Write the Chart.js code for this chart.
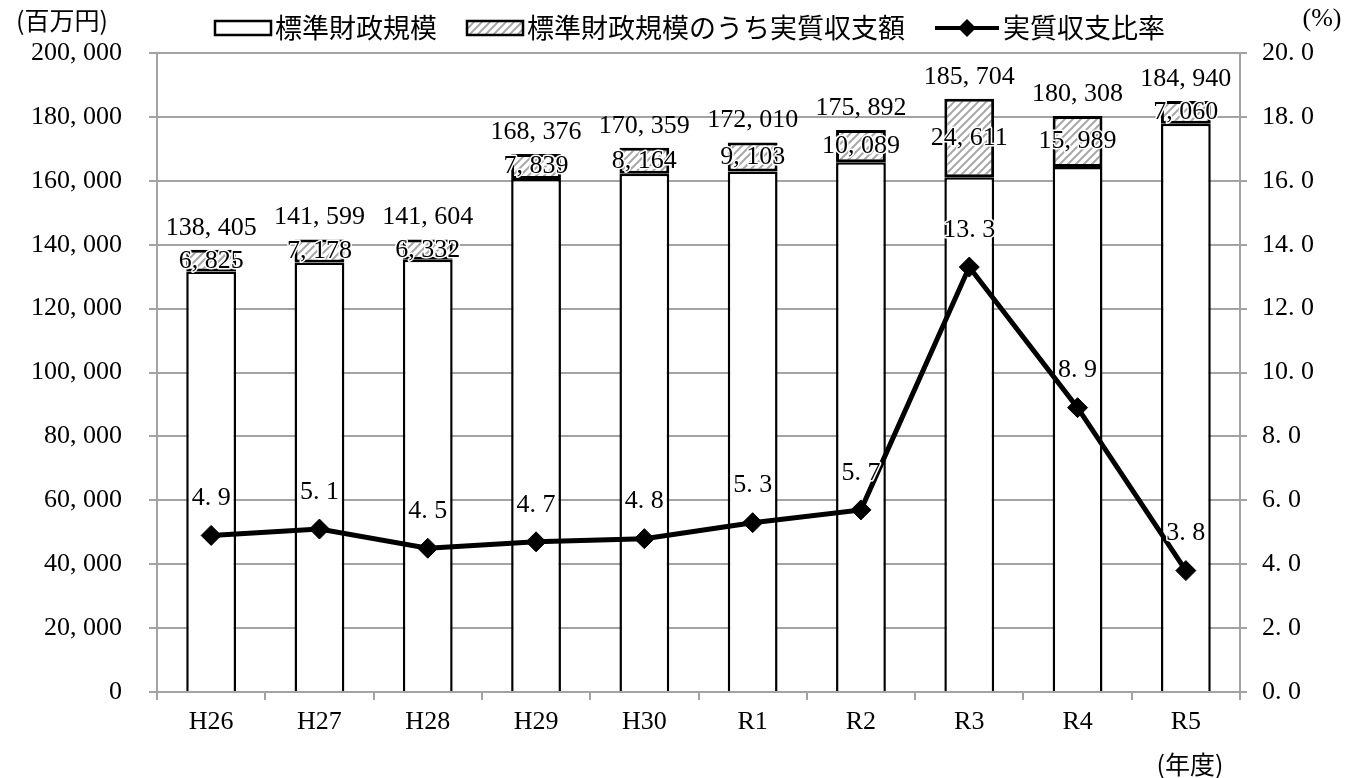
<!DOCTYPE html>
<html lang="ja">
<head>
<meta charset="utf-8">
<title>標準財政規模と実質収支比率</title>
<script src="https://cdn.jsdelivr.net/npm/chart.js@4/dist/chart.umd.min.js"></script>
<style>
  html, body { margin: 0; padding: 0; background: #fff; }
  canvas { display: block; }
</style>
</head>
<body>
<canvas id="fiscalChart" width="1371" height="778"></canvas>
<script>
// 年度
const years = ['H26', 'H27', 'H28', 'H29', 'H30', 'R1', 'R2', 'R3', 'R4', 'R5'];
// 標準財政規模（百万円）
const standardScale = [138405, 141599, 141604, 168376, 170359, 172010, 175892, 185704, 180308, 184940];
// 標準財政規模のうち実質収支額（百万円）
const realBalance = [6825, 7178, 6332, 7839, 8164, 9103, 10089, 24611, 15989, 7060];
// 実質収支比率（%）
const balanceRatio = [4.9, 5.1, 4.5, 4.7, 4.8, 5.3, 5.7, 13.3, 8.9, 3.8];

const legendLabels = ['標準財政規模', '標準財政規模のうち実質収支額', '実質収支比率'];
const unitLeft = '(百万円)';
const unitRight = '(%)';
const unitX = '(年度)';

const leftMax = 200000, leftStep = 20000;
const rightMax = 20, rightStep = 2;

const numFont = '"Liberation Serif", "DejaVu Serif", serif';
const jpFont = '"Noto Sans CJK JP", "Noto Sans", sans-serif';
const gridGray = '#a3a3a3';

const canvas = document.getElementById('fiscalChart');
const ctx = canvas.getContext('2d');

// gray diagonal hatching for the 実質収支額 segment
function makeHatch() {
    const c = document.createElement('canvas');
    c.width = 8; c.height = 8;
    const g = c.getContext('2d');
    g.fillStyle = '#fff';
    g.fillRect(0, 0, 8, 8);
    g.strokeStyle = '#a8a8a8';
    g.lineWidth = 2;
    g.beginPath();
    g.moveTo(0, 8); g.lineTo(8, 0);
    g.moveTo(-2, 2); g.lineTo(2, -2);
    g.moveTo(6, 10); g.lineTo(10, 6);
    g.stroke();
    return ctx.createPattern(c, 'repeat');
}
const hatch = makeHatch();

// "138,405" -> "138, 405" the way the half-width font spaces it
function fmtNum(n) {
    return n.toLocaleString('en-US').replace(/,/g, ', ');
}
function fmtDec(v) {
    return v.toFixed(1).replace('.', '. ');
}

function haloText(c, text, x, y, halo) {
    if (halo) {
        c.lineWidth = halo;
        c.strokeStyle = '#fff';
        c.lineJoin = 'round';
        c.strokeText(text, x, y);
    }
    c.fillStyle = '#000';
    c.fillText(text, x, y);
}

// value labels on bars and line points
const valueLabels = {
    id: 'valueLabels',
    afterDatasetsDraw(chart) {
        const c = chart.ctx;
        const sub = chart.getDatasetMeta(1);
        const line = chart.getDatasetMeta(2);
        c.save();
        c.font = '26px ' + numFont;
        c.textAlign = 'center';
        c.textBaseline = 'middle';
        sub.data.forEach((bar, i) => {
            haloText(c, fmtNum(standardScale[i]), bar.x, bar.y - 22, 0);
            haloText(c, fmtNum(realBalance[i]), bar.x, (bar.y + bar.base) / 2, 3);
        });
        line.data.forEach((pt, i) => {
            haloText(c, fmtDec(balanceRatio[i]), pt.x, pt.y - 37, 3);
        });
        c.restore();
    }
};

// legend row and unit captions
const legendRow = {
    id: 'legendRow',
    afterDraw(chart) {
        const c = chart.ctx;
        c.save();
        c.font = '27px ' + jpFont;
        c.textBaseline = 'middle';
        const iconW = [56, 56, 64];
        const gapIcon = 4, gapItem = 30;
        const widths = legendLabels.map(t => c.measureText(t).width);
        let total = 0;
        widths.forEach((w, i) => { total += iconW[i] + gapIcon + w; });
        total += gapItem * (legendLabels.length - 1);
        let x = 690 - total / 2;
        const y = 28;
        legendLabels.forEach((t, i) => {
            if (i < 2) {
                c.fillStyle = i === 0 ? '#fff' : hatch;
                c.fillRect(x, y - 7, iconW[i], 14);
                c.lineWidth = 2.5;
                c.strokeStyle = '#000';
                c.strokeRect(x, y - 7, iconW[i], 14);
            } else {
                c.strokeStyle = '#000';
                c.lineWidth = 4;
                c.beginPath();
                c.moveTo(x, y); c.lineTo(x + iconW[i], y);
                c.stroke();
                const cx = x + iconW[i] / 2;
                c.fillStyle = '#000';
                c.beginPath();
                c.moveTo(cx, y - 9); c.lineTo(cx + 9, y);
                c.lineTo(cx, y + 9); c.lineTo(cx - 9, y);
                c.closePath();
                c.fill();
            }
            x += iconW[i] + gapIcon;
            c.fillStyle = '#000';
            c.textAlign = 'left';
            c.fillText(t, x, y);
            x += widths[i] + gapItem;
        });

        c.font = '25px ' + jpFont;
        c.textAlign = 'center';
        c.fillText(unitLeft, 62, 20);
        c.fillText(unitX, 1190, 764);
        c.font = '26px ' + numFont;
        c.fillText(unitRight, 1322, 19);
        c.restore();
    }
};

new Chart(ctx, {
    data: {
        labels: years,
        datasets: [
            {
                type: 'bar',
                label: legendLabels[0],
                data: standardScale.map((v, i) => v - realBalance[i]),
                backgroundColor: '#fff',
                borderColor: '#000',
                borderWidth: 2.5,
                borderSkipped: 'start',
                barPercentage: 0.46,
                categoryPercentage: 1,
                yAxisID: 'y',
                order: 1
            },
            {
                type: 'bar',
                label: legendLabels[1],
                data: realBalance,
                backgroundColor: hatch,
                borderColor: '#000',
                borderWidth: 3,
                borderSkipped: false,
                barPercentage: 0.46,
                categoryPercentage: 1,
                yAxisID: 'y',
                order: 1
            },
            {
                type: 'line',
                label: legendLabels[2],
                data: balanceRatio,
                borderColor: '#000',
                borderWidth: 5,
                pointStyle: 'rectRot',
                pointRadius: 10,
                pointBackgroundColor: '#000',
                pointBorderColor: '#000',
                pointBorderWidth: 1,
                tension: 0,
                yAxisID: 'y1',
                order: 0
            }
        ]
    },
    options: {
        responsive: false,
        animation: false,
        devicePixelRatio: 1,
        layout: { padding: { top: 53, left: 0, right: 0, bottom: 0 } },
        plugins: {
            legend: { display: false },
            tooltip: { enabled: false }
        },
        scales: {
            x: {
                stacked: true,
                offset: true,
                grid: {
                    offset: true,
                    drawOnChartArea: false,
                    color: gridGray,
                    lineWidth: 2,
                    tickLength: 8
                },
                border: { color: gridGray, width: 2 },
                ticks: {
                    color: '#000',
                    padding: 7,
                    font: { family: numFont, size: 26 }
                },
                afterFit(scale) { scale.height = 86; }
            },
            y: {
                stacked: true,
                position: 'left',
                min: 0,
                max: leftMax,
                grid: { color: gridGray, lineWidth: 2, tickLength: 8 },
                border: { color: gridGray, width: 2 },
                ticks: {
                    stepSize: leftStep,
                    color: '#000',
                    padding: 27,
                    font: { family: numFont, size: 26 },
                    callback: v => fmtNum(v)
                },
                afterFit(scale) { scale.width = 157; }
            },
            y1: {
                position: 'right',
                min: 0,
                max: rightMax,
                grid: { drawOnChartArea: false, color: gridGray, lineWidth: 2, tickLength: 7 },
                border: { color: gridGray, width: 2 },
                ticks: {
                    stepSize: rightStep,
                    color: '#000',
                    padding: 15,
                    font: { family: numFont, size: 26 },
                    callback: v => fmtDec(v)
                },
                afterFit(scale) { scale.width = 131; }
            }
        }
    },
    plugins: [valueLabels, legendRow]
});
</script>
</body>
</html>
